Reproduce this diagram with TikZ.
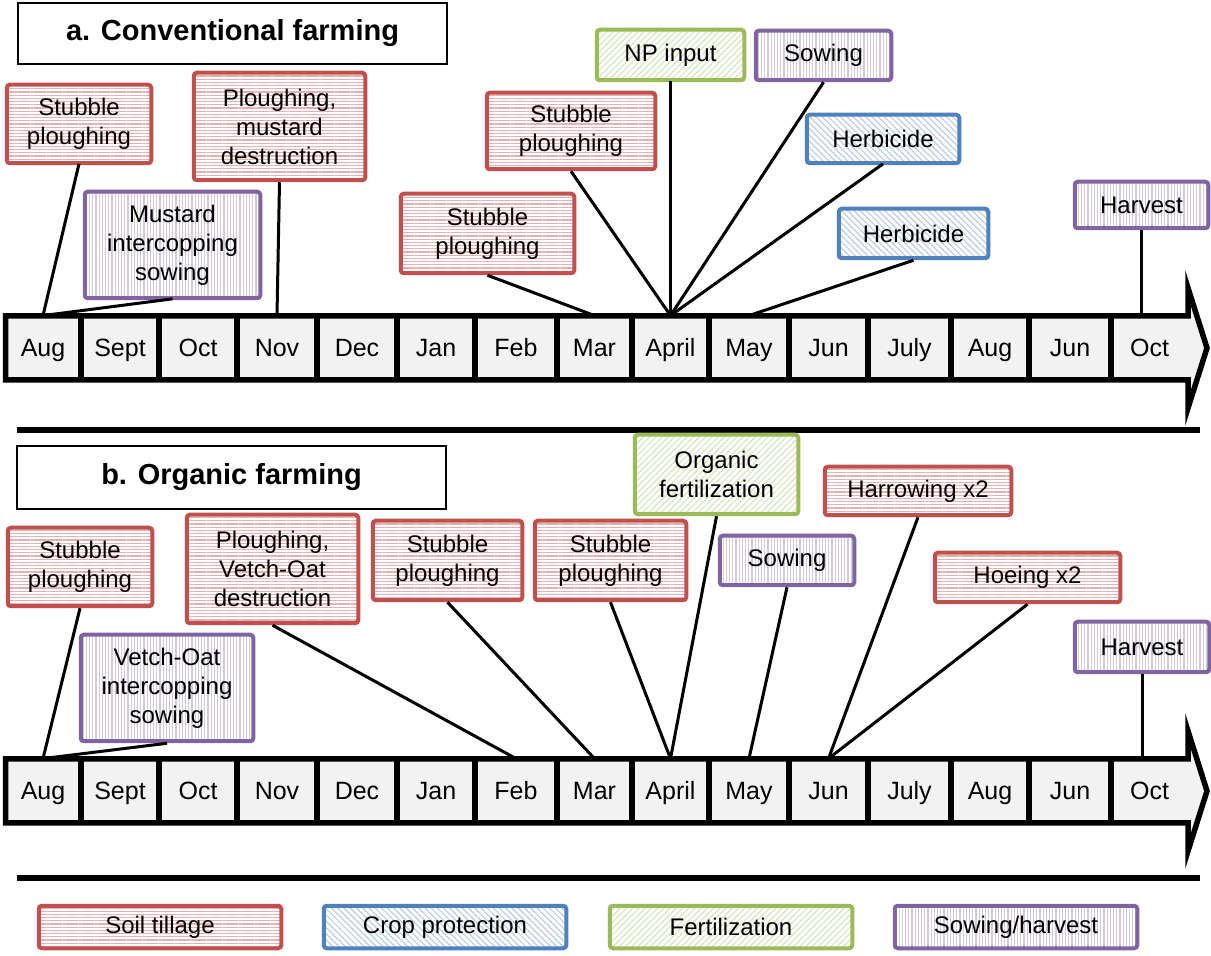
\documentclass[tikz,border=0pt]{standalone}
\usepackage{fontspec}
\setmainfont{Liberation Sans}
\usepackage{xcolor}
\usetikzlibrary{patterns.meta}

\definecolor{tillred}{HTML}{C0504D}
\definecolor{protblue}{HTML}{4F81BD}
\definecolor{fertgreen}{HTML}{9BBB59}
\definecolor{sowpurple}{HTML}{8064A2}
\definecolor{cellgray}{HTML}{F2F2F2}

\begin{document}
\begin{tikzpicture}[
  x=0.5pt, y=-0.5pt,
  evt/.style={
    draw,
    line width=2pt,
    rounded corners=1.5pt,
    align=center,
    inner sep=1pt,
    font=\fontsize{12}{14.5}\selectfont
  },
  boxsize/.style 2 args={minimum width=#1pt, minimum height=#2pt},
  tillage/.style={evt, draw=tillred,
    pattern={Lines[angle=0,distance=1.6pt,line width=0.6pt]}, pattern color=tillred!45},
  protect/.style={evt, draw=protblue,
    pattern={Lines[angle=-45,distance=2.2pt,line width=0.6pt]}, pattern color=protblue!40},
  fert/.style={evt, draw=fertgreen,
    pattern={Lines[angle=45,distance=2.2pt,line width=0.6pt]}, pattern color=fertgreen!40},
  sowharv/.style={evt, draw=sowpurple,
    pattern={Lines[angle=90,distance=1.6pt,line width=0.6pt]}, pattern color=sowpurple!35},
  titlebox/.style={draw, line width=1pt, minimum width=214.5pt,
    font=\bfseries\fontsize{14.5}{17}\selectfont},
  month/.style={minimum height=32pt, inner sep=0pt, text height=9pt, text depth=0.5pt,
    font=\fontsize{12.5}{15}\selectfont},
  timeline/.style={draw, fill=cellgray, line width=2.75pt, line join=miter},
  divider/.style={line width=2.75pt},
  link/.style={line width=1.5pt},
  sepline/.style={line width=3pt}
]
  \useasboundingbox (0,0) rectangle (1211,956);

  % the two time axes
  \foreach \p/\y in {a/348,b/791}{
    \draw[timeline] (5.5,\y-32) -- (1188,\y-32) -- (1188,\y-60) -- (1207,\y)
      -- (1188,\y+60) -- (1188,\y+32) -- (5.5,\y+32) -- cycle;
    \foreach \x in {81,159,237,317,397,475,557,632,709,789,868,951,1029,1111}
      \draw[divider] (\x,\y-32) -- (\x,\y+32);
    \foreach \m/\n/\c in {Aug/aug/43,Sept/sep/120,Oct/oct/198,Nov/nov/277,
        Dec/dec/357,Jan/jan/436,Feb/feb/516,Mar/mar/594.5,April/apr/670.5,
        May/may/749,Jun/jun/828.5,July/jul/909.5,Aug/aug2/990,Jun/jun2/1070,
        Oct/oct2/1149.5}
      \node[month] (\p-\n) at (\c,\y) {\m};
  }

  % a. conventional farming
  \node[titlebox, minimum height=30.5pt] (titleA) at (232.5,33.5) {a. Conventional farming};
  \node[tillage, boxsize={72.25}{39.25}] (a1) at (79,124) {Stubble\\ploughing};
  \node[sowharv, boxsize={87.75}{53.25}] (a2) at (172.5,245) {Mustard\\intercopping\\sowing};
  \node[tillage, boxsize={85.75}{53.75}] (a3) at (279.5,126.5) {Ploughing,\\mustard\\destruction};
  \node[tillage, boxsize={86.75}{39.75}] (a4) at (487.5,233.5) {Stubble\\ploughing};
  \node[tillage, boxsize={84.25}{38.25}] (a5) at (571,131) {Stubble\\ploughing};
  \node[fert, boxsize={73.75}{25.25}] (a6) at (670.5,55) {NP input};
  \node[sowharv, boxsize={67.75}{24.75}] (a7) at (823.5,55.5) {Sowing};
  \node[protect, boxsize={76.25}{24.25}] (a8) at (883,139) {Herbicide};
  \node[protect, boxsize={74.75}{24.75}] (a9) at (913.5,233.5) {Herbicide};
  \node[sowharv, boxsize={66.75}{23.25}] (a10) at (1141.5,205) {Harvest};

  \draw[link] (a1.south) -- (a-aug.north);
  \draw[link] (a2.south) -- (a-aug.north);
  \draw[link] (a3.south) -- (a-nov.north);
  \draw[link] (a4.south) -- (a-mar.north);
  \draw[link] (a5.south) -- (a-apr.north);
  \draw[link] (a6.south) -- (a-apr.north);
  \draw[link] (a7.south) -- (a-apr.north);
  \draw[link] (a8.south) -- (a-apr.north);
  \draw[link] (a9.south) -- (a-may.north);
  \draw[link] (a10.south) -- (a10.south |- a-oct2.north);

  \draw[sepline] (17,430) -- (1200,430);

  % b. organic farming
  \node[titlebox, minimum height=31.5pt] (titleB) at (231.5,477.5) {b. Organic farming};
  \node[tillage, boxsize={72.25}{39.25}] (b1) at (80,567) {Stubble\\ploughing};
  \node[sowharv, boxsize={86.25}{53.25}] (b2) at (167,688) {Vetch-Oat\\intercopping\\sowing};
  \node[tillage, boxsize={85.75}{54.25}] (b3) at (272.5,569) {Ploughing,\\Vetch-Oat\\destruction};
  \node[tillage, boxsize={74.75}{39.75}] (b4) at (447.5,560.5) {Stubble\\ploughing};
  \node[tillage, boxsize={75.75}{39.75}] (b5) at (610.5,560.5) {Stubble\\ploughing};
  \node[fert, boxsize={81.75}{39.75}] (b6) at (716.5,474.5) {Organic\\fertilization};
  \node[sowharv, boxsize={67.25}{24.75}] (b7) at (787,560.5) {Sowing};
  \node[tillage, boxsize={93.25}{24.25}] (b8) at (918,491) {Harrowing x2};
  \node[tillage, boxsize={92.75}{24.75}] (b9) at (1027.5,577.5) {Hoeing x2};
  \node[sowharv, boxsize={67.25}{25.25}] (b10) at (1142,647) {Harvest};

  \draw[link] (b1.south) -- (b-aug.north);
  \draw[link] (b2.south) -- (b-aug.north);
  \draw[link] (b3.south) -- (b-feb.north);
  \draw[link] (b4.south) -- (b-mar.north);
  \draw[link] (b5.south) -- (b-apr.north);
  \draw[link] (b6.south) -- (b-apr.north);
  \draw[link] (b7.south) -- (b-may.north);
  \draw[link] (b8.south) -- (b-jun.north);
  \draw[link] (b9.south) -- (b-jun.north);
  \draw[link] (b10.south) -- (b10.south |- b-oct2.north);

  \draw[sepline] (17,878) -- (1200,878);

  % legend
  \node[tillage, boxsize={121.25}{21.25}] (legTill) at (160,927) {Soil tillage};
  \node[protect, boxsize={121.25}{21.25}] (legProt) at (445,927) {Crop protection};
  \node[fert, boxsize={121.25}{21.25}] (legFert) at (731,927) {Fertilization};
  \node[sowharv, boxsize={121.25}{21.25}] (legSow) at (1016,927) {Sowing/harvest};
\end{tikzpicture}
\end{document}
